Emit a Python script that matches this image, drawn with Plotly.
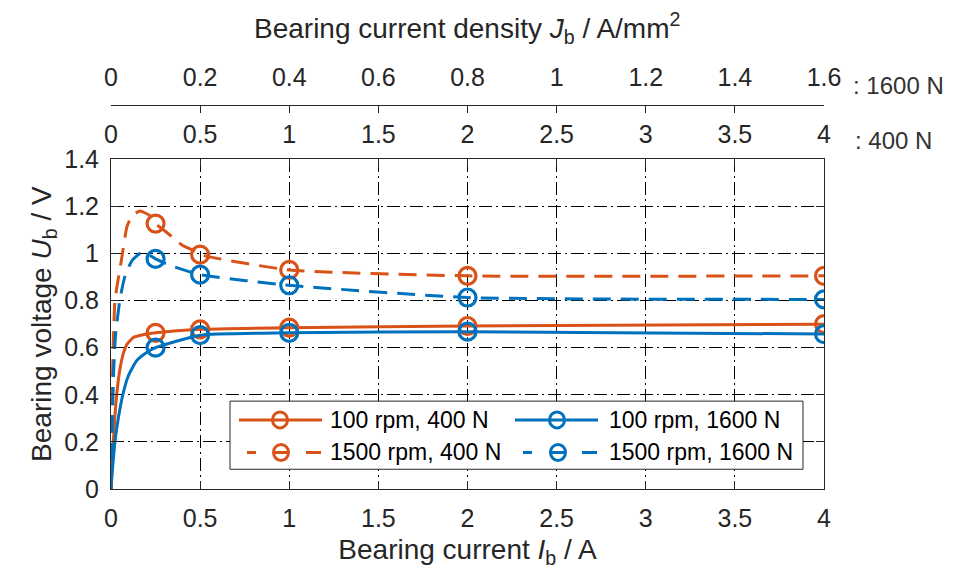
import plotly.graph_objects as go

# ---------------- data ----------------
I_points = [0.25, 0.5, 1, 2, 4]
U_100rpm_400N = [0.663, 0.678, 0.685, 0.692, 0.700]
U_100rpm_1600N = [0.600, 0.653, 0.663, 0.668, 0.658]
U_1500rpm_400N = [1.127, 0.995, 0.930, 0.905, 0.905]
U_1500rpm_1600N = [0.977, 0.910, 0.865, 0.813, 0.805]

# fitted curves
fit_x_100_400 = [0, 0.003, 0.008, 0.013, 0.022, 0.032, 0.048, 0.069, 0.09, 0.125, 0.18, 0.25, 0.5, 1, 2, 4]
fit_y_100_400 = [0, 0.05, 0.12, 0.2, 0.31, 0.4, 0.5, 0.575, 0.615, 0.643, 0.655, 0.663, 0.678, 0.685, 0.692, 0.700]
fit_x_100_1600 = [0, 0.003, 0.01, 0.022, 0.041, 0.066, 0.097, 0.144, 0.2, 0.25, 0.5, 1, 2, 4]
fit_y_100_1600 = [0, 0.03, 0.1, 0.2, 0.3, 0.4, 0.48, 0.545, 0.58, 0.600, 0.653, 0.663, 0.668, 0.658]
fit_x_1500_400 = [0, 0.002, 0.005, 0.009, 0.014, 0.022, 0.04, 0.06, 0.09, 0.118, 0.163, 0.22, 0.25, 0.32, 0.40, 0.47, 0.5, 1, 2, 4]
fit_y_1500_400 = [0, 0.1, 0.3, 0.5, 0.65, 0.8, 0.89, 0.98, 1.115, 1.16, 1.18, 1.16, 1.127, 1.085, 1.035, 1.01, 0.995, 0.930, 0.905, 0.905]
fit_x_1500_1600 = [0, 0.003, 0.008, 0.015, 0.025, 0.05, 0.079, 0.118, 0.163, 0.2, 0.25, 0.33, 0.5, 1, 2, 4]
fit_y_1500_1600 = [0, 0.1, 0.3, 0.5, 0.65, 0.805, 0.905, 0.97, 1.0, 1.0, 0.977, 0.95, 0.910, 0.865, 0.813, 0.805]

series_names = ["100 rpm, 400 N", "100 rpm, 1600 N", "1500 rpm, 400 N", "1500 rpm, 1600 N"]

x_ticks = [0, 0.5, 1, 1.5, 2, 2.5, 3, 3.5, 4]
x_ticktext = ["0", "0.5", "1", "1.5", "2", "2.5", "3", "3.5", "4"]
j_ticks = [0, 0.2, 0.4, 0.6, 0.8, 1.0, 1.2, 1.4, 1.6]
j_ticktext = ["0", "0.2", "0.4", "0.6", "0.8", "1", "1.2", "1.4", "1.6"]
y_ticks = [0, 0.2, 0.4, 0.6, 0.8, 1.0, 1.2, 1.4]
y_ticktext = ["0", "0.2", "0.4", "0.6", "0.8", "1", "1.2", "1.4"]

ORANGE = "#D95319"
BLUE = "#0072BD"
FONT = "Liberation Sans, Arial, sans-serif"

# ---------------- geometry ----------------
W, H = 968, 572
ML, MR, MT, MB = 111, 144, 20, 83
PW = W - ML - MR
PH = H - MT - MB
PLOT_TOP = 155
J_AXIS_Y = 100


def px(x):
    return (x - ML) / PW


def py(y):
    return (H - MB - y) / PH


fig = go.Figure()

curves = [
    (fit_x_100_400, fit_y_100_400, U_100rpm_400N, ORANGE, "solid"),
    (fit_x_100_1600, fit_y_100_1600, U_100rpm_1600N, BLUE, "solid"),
    (fit_x_1500_400, fit_y_1500_400, U_1500rpm_400N, ORANGE, "18px,10px"),
    (fit_x_1500_1600, fit_y_1500_1600, U_1500rpm_1600N, BLUE, "18px,10px"),
]
for (fx, fy, pts, col, dash), name in zip(curves, series_names):
    fig.add_trace(go.Scatter(x=fx, y=fy, mode="lines", name=name, showlegend=False,
                             line=dict(color=col, width=3, dash=dash, shape="spline", smoothing=0.5)))
    fig.add_trace(go.Scatter(x=I_points, y=pts, mode="markers", name=name, showlegend=False,
                             marker=dict(symbol="circle-open", size=17, color=col,
                                         line=dict(color=col, width=3.2))))

# empty traces so the top axes exist
fig.add_trace(go.Scatter(x=[], y=[], xaxis="x2", yaxis="y", showlegend=False, hoverinfo="skip"))
fig.add_trace(go.Scatter(x=[], y=[], xaxis="x3", yaxis="y", showlegend=False, hoverinfo="skip"))

tickfont = dict(family=FONT, size=25, color="#262626")
axcol = "#262626"
grid = dict(showgrid=True, gridcolor="#000000", gridwidth=1, griddash="13px,4px,2px,4px")

ydom_top = py(PLOT_TOP)

fig.update_layout(
    width=W, height=H,
    margin=dict(l=ML, r=MR, t=MT, b=MB),
    paper_bgcolor="white", plot_bgcolor="white",
    showlegend=False,
    xaxis=dict(range=[0, 4], tickvals=x_ticks, ticktext=x_ticktext, ticks="inside", ticklen=8,
               tickcolor=axcol, showline=True, linecolor=axcol, linewidth=1, zeroline=False,
               tickfont=tickfont, ticklabelstandoff=7,
               title=dict(text="Bearing current <i>I</i><sub>b</sub> / A",
                          font=dict(family=FONT, size=28, color="#262626"), standoff=8),
               **grid),
    xaxis2=dict(range=[0, 4], overlaying="x", side="top", anchor="y", tickvals=x_ticks,
                ticktext=x_ticktext, ticks="inside", ticklen=8, tickcolor=axcol, showline=True,
                linecolor=axcol, linewidth=1, showgrid=False, zeroline=False, tickfont=tickfont,
                ticklabelstandoff=5),
    xaxis3=dict(range=[0, 1.6], overlaying="x", side="top", anchor="free", position=py(J_AXIS_Y),
                tickvals=j_ticks, ticktext=j_ticktext, ticks="inside", ticklen=7, tickcolor=axcol,
                showline=True, linecolor=axcol, linewidth=1, showgrid=False, zeroline=False,
                tickfont=tickfont, ticklabelstandoff=9),
    yaxis=dict(domain=[0, ydom_top], range=[0, 1.4], tickvals=y_ticks, ticktext=y_ticktext,
               ticks="inside", ticklen=8, tickcolor=axcol, showline=True, linecolor=axcol,
               linewidth=1, mirror="ticks", zeroline=False, tickfont=tickfont, ticklabelstandoff=6,
               title=dict(text="Bearing voltage <i>U</i><sub>b</sub> / V",
                          font=dict(family=FONT, size=28, color="#262626"), standoff=4),
               **grid),
)

annotations = [
    dict(text="Bearing current density <i>J</i><sub>b</sub> / A/mm<sup>2</sup>", x=px(467), y=py(22),
         xref="paper", yref="paper", showarrow=False, xanchor="center", yanchor="middle",
         font=dict(family=FONT, size=28, color="#262626")),
    dict(text=": 1600 N", x=px(851), y=py(80), xref="paper", yref="paper", showarrow=False,
         xanchor="left", yanchor="middle", font=dict(family=FONT, size=24, color="#333333")),
    dict(text=": 400 N", x=px(853), y=py(136), xref="paper", yref="paper", showarrow=False,
         xanchor="left", yanchor="middle", font=dict(family=FONT, size=24, color="#333333")),
]

# ---------------- legend (drawn) ----------------
shapes = [dict(type="rect", xref="paper", yref="paper", x0=px(230), x1=px(803), y0=py(469), y1=py(400),
               fillcolor="white", line=dict(color=axcol, width=1), layer="above")]

legend_items = [
    (series_names[0], ORANGE, False, 239, 322, 280, 328, 419),
    (series_names[1], BLUE, False, 515, 598, 557, 607, 419),
    (series_names[2], ORANGE, True, 239, 322, 281, 328, 452),
    (series_names[3], BLUE, True, 515, 598, 558, 607, 452),
]
for name, col, dashed, lx0, lx1, cx, tx, ry in legend_items:
    if not dashed:
        shapes.append(dict(type="line", xref="paper", yref="paper", x0=px(lx0), x1=px(lx1),
                           y0=py(ry), y1=py(ry), line=dict(color=col, width=3), layer="above"))
    else:
        for a, b in [(lx0 + 8, lx0 + 17), (cx - 6, cx + 6), (lx1 - 16, lx1 - 1)]:
            shapes.append(dict(type="line", xref="paper", yref="paper", x0=px(a), x1=px(b),
                               y0=py(ry), y1=py(ry), line=dict(color=col, width=3), layer="above"))
    shapes.append(dict(type="circle", xref="paper", yref="paper", xsizemode="pixel", ysizemode="pixel",
                       xanchor=px(cx), yanchor=py(ry), x0=-7.5, x1=7.5, y0=-8, y1=8,
                       line=dict(color=col, width=3), layer="above"))
    annotations.append(dict(text=name, x=px(tx), y=py(ry), xref="paper", yref="paper", showarrow=False,
                            xanchor="left", yanchor="middle",
                            font=dict(family=FONT, size=23, color="#000000")))

fig.update_layout(shapes=shapes, annotations=annotations)

fig.write_html("out.html")
